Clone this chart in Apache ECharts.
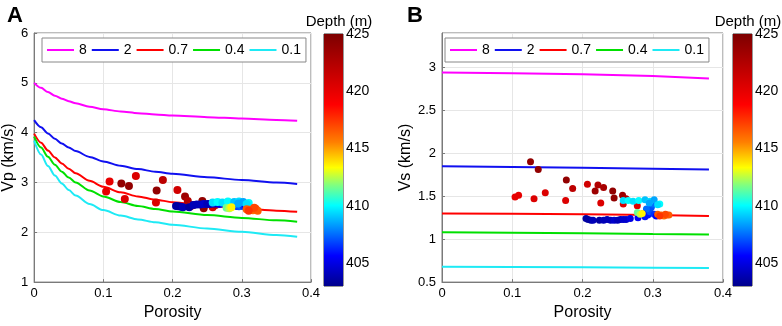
<!DOCTYPE html>
<html>
<head>
<meta charset="utf-8">
<script src="https://cdn.jsdelivr.net/npm/echarts@6/dist/echarts.min.js"></script>
<style>
  html, body { margin: 0; padding: 0; background: #fff; }
  #chart { width: 782px; height: 326px; }
</style>
</head>
<body>
<div id="chart"></div>
<script>
// model curves (legend labels as in the figure)
const curveNames = ['8', '2', '0.7', '0.4', '0.1'];
const curveColors = ['#FF00FF', '#1010F0', '#FF0000', '#00E000', '#1EEAF5'];

const porosityGrid = [0, 0.01, 0.02, 0.03, 0.04, 0.05, 0.06, 0.08, 0.1, 0.125, 0.15, 0.175, 0.2, 0.25, 0.3, 0.35, 0.38];
const vpCurves = [
  [5.00, 4.899, 4.814, 4.742, 4.682, 4.631, 4.588, 4.520, 4.470, 4.424, 4.390, 4.365, 4.344, 4.311, 4.282, 4.256, 4.240],
  [4.25, 4.107, 3.983, 3.876, 3.782, 3.701, 3.630, 3.513, 3.422, 3.335, 3.269, 3.216, 3.173, 3.105, 3.049, 2.999, 2.971],
  [3.98, 3.799, 3.640, 3.502, 3.382, 3.276, 3.184, 3.032, 2.914, 2.802, 2.719, 2.655, 2.605, 2.532, 2.478, 2.434, 2.410],
  [3.92, 3.701, 3.514, 3.354, 3.217, 3.100, 3.000, 2.839, 2.719, 2.608, 2.528, 2.467, 2.419, 2.346, 2.289, 2.239, 2.211],
  [3.84, 3.561, 3.330, 3.138, 2.980, 2.848, 2.737, 2.567, 2.445, 2.336, 2.258, 2.200, 2.152, 2.075, 2.009, 1.946, 1.910]
];

const vsGrid = [0, 0.1, 0.2, 0.3, 0.38];
const vsCurves = [
  [2.94, 2.93, 2.92, 2.90, 2.87],
  [1.85, 1.84, 1.83, 1.82, 1.81],
  [1.30, 1.295, 1.29, 1.28, 1.27],
  [1.08, 1.075, 1.07, 1.06, 1.055],
  [0.68, 0.677, 0.673, 0.668, 0.665]
];

// well log samples
const porosity = [
  0.104, 0.109, 0.126, 0.137, 0.131, 0.147, 0.177, 0.176, 0.186, 0.207,
  0.218, 0.222, 0.230, 0.226, 0.243, 0.245, 0.257, 0.258, 0.262, 0.278,
  0.205, 0.208, 0.212, 0.215, 0.224, 0.230, 0.235, 0.240, 0.245, 0.250,
  0.254, 0.258, 0.262, 0.268,
  0.279, 0.289, 0.293, 0.296, 0.298, 0.300, 0.291, 0.302, 0.286, 0.305,
  0.258, 0.265, 0.272, 0.280, 0.289, 0.296, 0.302, 0.310, 0.307, 0.295,
  0.278, 0.282, 0.285,
  0.307, 0.312, 0.316, 0.320, 0.323, 0.318, 0.310
];
const vp = [
  2.82, 3.02, 2.98, 2.93, 2.67, 3.13, 2.84, 2.60, 3.05, 2.85,
  2.72, 2.63, 2.55, 2.52, 2.63, 2.48, 2.58, 2.50, 2.55, 2.52,
  2.53, 2.52, 2.51, 2.50, 2.50, 2.55, 2.56, 2.56, 2.57, 2.57,
  2.57, 2.58, 2.58, 2.57,
  2.56, 2.55, 2.53, 2.52, 2.55, 2.53, 2.57, 2.54, 2.55, 2.56,
  2.60, 2.61, 2.60, 2.62, 2.61, 2.62, 2.61, 2.59, 2.57, 2.58,
  2.49, 2.48, 2.50,
  2.46, 2.45, 2.44, 2.47, 2.43, 2.49, 2.43
];
const vs = [
  1.49, 1.51, 1.90, 1.81, 1.47, 1.54, 1.69, 1.45, 1.59, 1.64,
  1.56, 1.63, 1.60, 1.42, 1.56, 1.48, 1.51, 1.41, 1.47, 1.39,
  1.24, 1.23, 1.22, 1.22, 1.22, 1.22, 1.23, 1.22, 1.22, 1.22,
  1.23, 1.23, 1.23, 1.24,
  1.25, 1.26, 1.28, 1.32, 1.37, 1.41, 1.35, 1.29, 1.30, 1.27,
  1.45, 1.45, 1.44, 1.45, 1.46, 1.44, 1.46, 1.41, 1.40, 1.42,
  1.31, 1.29, 1.30,
  1.29, 1.28, 1.27, 1.28, 1.28, 1.29, 1.27
];
const depth = [
  420, 420, 424, 424, 420.5, 420.5, 424, 420.5, 422, 421,
  423.5, 422.5, 423, 420.5, 424, 424, 423.5, 420.5, 422.5, 420.5,
  403.5, 403.5, 403.5, 404, 403.5, 404, 404, 404, 404.5, 404,
  404, 404.5, 404.5, 405,
  405.5, 406, 406, 407, 407, 407.5, 407.5, 406.5, 406, 405.5,
  409.5, 410, 409.5, 410, 409, 409.5, 408.5, 410, 409.5, 408.5,
  411.5, 412.5, 413.5,
  416.5, 416.5, 416, 417, 416.5, 417, 417.5
];

const depthMin = 403;
const depthMax = 425;
const depthTicks = [405, 410, 415, 420, 425];

// jet-like colormap as seen on the colour bar (offset from the bottom)
const CMAP = [
  [0.00, [0, 0, 140]], [0.12, [0, 0, 255]], [0.22, [0, 128, 255]], [0.32, [0, 255, 255]],
  [0.40, [128, 255, 128]], [0.47, [255, 255, 0]], [0.57, [255, 128, 0]], [0.72, [255, 0, 0]],
  [1.00, [125, 0, 0]]
];
const FONT = 'Liberation Sans, Arial, sans-serif';
const TEXT = '#000';
const AXIS_GREY = '#7a7a7a';

const rgb = c => 'rgb(' + c.map(Math.round).join(',') + ')';
const sampleCmap = t => {
  for (let i = 1; i < CMAP.length; i++) {
    if (t <= CMAP[i][0]) {
      const [t0, c0] = CMAP[i - 1], [t1, c1] = CMAP[i];
      const f = (t - t0) / (t1 - t0);
      return rgb(c0.map((v, k) => v + (c1[k] - v) * f));
    }
  }
  return rgb(CMAP[CMAP.length - 1][1]);
};
const mapColors = Array.from({ length: 89 }, (_, i) => sampleCmap(i / 88));

const chart = echarts.init(document.getElementById('chart'), null, { renderer: 'canvas' });

const cbGradient = new echarts.graphic.LinearGradient(0, 1, 0, 0,
  CMAP.map(s => ({ offset: s[0], color: rgb(s[1]) })));

const panels = [
  { left: 32, top: 33, width: 279, height: 252, yName: 'Vp (km/s)', yMin: 1, yMax: 6, yInt: 1, nameGap: 10,
    grid: porosityGrid, curves: vpCurves, values: vp, cbLeft: 324, letterLeft: 2, legendLeft: 42, dot: 8, smooth: 0.3 },
  { left: 442, top: 33, width: 281, height: 253, yName: 'Vs (km/s)', yMin: 0.5, yMax: 3.4, yInt: 0.5, nameGap: 23,
    grid: vsGrid, curves: vsCurves, values: vs, cbLeft: 733, letterLeft: 402, legendLeft: 445, dot: 7, smooth: false }
];
const letters = ['A', 'B'];

const grids = [], xAxes = [], yAxes = [], series = [], legends = [], titles = [];

panels.forEach((p, k) => {
  // main plot
  grids.push({ left: p.left, top: p.top, width: p.width, height: p.height,
    show: true, borderColor: AXIS_GREY, borderWidth: 1, backgroundColor: '#fff' });
  const gi = grids.length - 1;
  xAxes.push({
    gridIndex: gi, type: 'value', min: 0, max: 0.4, interval: 0.1,
    name: 'Porosity', nameLocation: 'middle', nameGap: 20,
    nameTextStyle: { fontFamily: FONT, fontSize: 16, color: TEXT },
    axisLine: { show: true, lineStyle: { color: AXIS_GREY } },
    axisTick: { show: true, inside: true, length: 3, lineStyle: { color: AXIS_GREY } },
    axisLabel: { fontFamily: FONT, fontSize: 13, color: TEXT, margin: 5 },
    splitLine: { show: true, lineStyle: { color: '#e6e6e6', width: 1 } }
  });
  yAxes.push({
    gridIndex: gi, type: 'value', min: p.yMin, max: p.yMax, interval: p.yInt,
    name: p.yName, nameLocation: 'middle', nameGap: p.nameGap,
    nameTextStyle: { fontFamily: FONT, fontSize: 16, color: TEXT },
    axisLine: { show: true, lineStyle: { color: AXIS_GREY } },
    axisTick: { show: true, inside: true, length: 3, lineStyle: { color: AXIS_GREY } },
    axisLabel: { fontFamily: FONT, fontSize: 13, color: TEXT, margin: 6, showMaxLabel: k === 0 },
    splitLine: { show: true, lineStyle: { color: '#e6e6e6', width: 1 } }
  });

  curveNames.forEach((name, i) => {
    series.push({
      name: name, type: 'line', xAxisIndex: gi, yAxisIndex: gi,
      data: p.grid.map((x, j) => [x, p.curves[i][j]]),
      smooth: p.smooth, smoothMonotone: 'x', symbol: 'none',
      lineStyle: { color: curveColors[i], width: 2 }, itemStyle: { color: curveColors[i] },
      z: 2
    });
  });

  series.push({
    name: 'samples' + k, type: 'scatter', xAxisIndex: gi, yAxisIndex: gi,
    data: porosity.map((x, j) => [x, p.values[j], depth[j]]),
    symbolSize: p.dot, itemStyle: { opacity: 1 }, z: 3
  });

  legends.push({
    data: curveNames, left: p.legendLeft, top: 38, orient: 'horizontal',
    icon: 'rect', itemWidth: 27, itemHeight: 2, itemGap: 5, padding: [5, 5],
    backgroundColor: '#fff', borderColor: '#888', borderWidth: 1,
    textStyle: { fontFamily: FONT, fontSize: 14, color: TEXT }
  });

  // colour bar: stacked bar, bottom part transparent
  grids.push({ left: p.cbLeft, top: 34, width: 19, height: 252,
    show: true, borderColor: '#333', borderWidth: 1 });
  const ci = grids.length - 1;
  xAxes.push({ gridIndex: ci, type: 'category', data: ['depth'], show: false });
  yAxes.push({
    gridIndex: ci, type: 'value', min: depthMin, max: depthMax, position: 'right',
    axisLine: { show: false },
    axisTick: { show: true, inside: true, length: 3, customValues: depthTicks, lineStyle: { color: '#333' } },
    axisLabel: { fontFamily: FONT, fontSize: 14, color: TEXT, margin: 3, customValues: depthTicks },
    splitLine: { show: false }
  });
  series.push({
    type: 'bar', xAxisIndex: ci, yAxisIndex: ci, stack: 'cb' + k, barWidth: '100%',
    data: [depthMin], itemStyle: { color: 'transparent' }, silent: true
  });
  series.push({
    type: 'bar', xAxisIndex: ci, yAxisIndex: ci, stack: 'cb' + k, barWidth: '100%',
    data: [depthMax - depthMin], itemStyle: { color: cbGradient }, silent: true
  });

  titles.push({ text: letters[k], left: p.letterLeft, top: 0,
    textStyle: { fontFamily: FONT, fontSize: 22, fontWeight: 'bold', color: TEXT } });
  titles.push({ text: 'Depth (m)', left: p.cbLeft + 10, top: 9, textAlign: 'center',
    textStyle: { fontFamily: FONT, fontSize: 15, fontWeight: 'normal', color: TEXT } });
});

chart.setOption({
  backgroundColor: '#fff',
  animation: false,
  title: titles,
  grid: grids,
  xAxis: xAxes,
  yAxis: yAxes,
  legend: legends,
  visualMap: {
    show: false, type: 'continuous', min: depthMin, max: depthMax, dimension: 2,
    seriesIndex: series.map((s, i) => s.type === 'scatter' ? i : -1).filter(i => i >= 0),
    inRange: { color: mapColors }
  },
  series: series
});
</script>
</body>
</html>
